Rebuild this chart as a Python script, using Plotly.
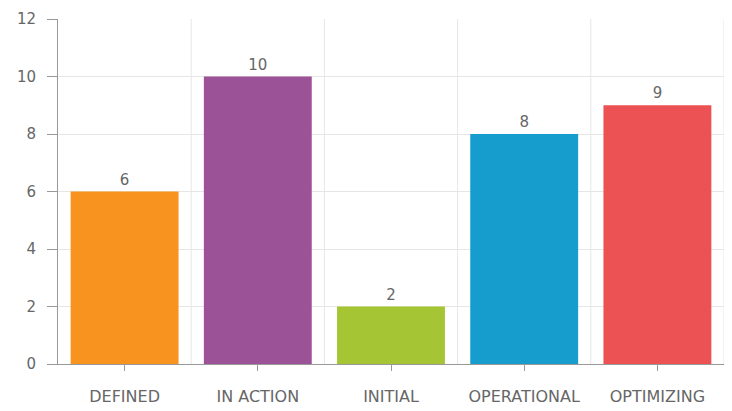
import plotly.graph_objects as go

categories = ["DEFINED", "IN ACTION", "INITIAL", "OPERATIONAL", "OPTIMIZING"]
values = [6, 10, 2, 8, 9]
colors = ["#F8931F", "#9C5297", "#A6C535", "#169DCD", "#EC5153"]
y_ticks = [0, 2, 4, 6, 8, 10, 12]

font_family = "'DejaVu Sans', 'Open Sans', sans-serif"
gray = "#666666"

fig = go.Figure()
fig.add_trace(go.Bar(
    x=categories, y=values,
    marker=dict(color=colors, line=dict(width=0)),
    text=[str(v) for v in values], textposition="outside",
    textfont=dict(family=font_family, size=15, color=gray),
    cliponaxis=False, hoverinfo="x+y",
))

# vertical gridlines at category boundaries
shapes = []
for i in range(1, len(categories) + 1):
    shapes.append(dict(type="line", xref="x", yref="paper", x0=i - 0.5, x1=i - 0.5,
                       y0=0, y1=1, line=dict(color="#E6E6E6", width=1), layer="below"))

fig.update_layout(
    width=732, height=411,
    margin=dict(l=58, r=8, t=19, b=47, autoexpand=False),
    paper_bgcolor="white", plot_bgcolor="white",
    bargap=0.19,
    showlegend=False,
    shapes=shapes,
    font=dict(family=font_family, size=15, color=gray),
    xaxis=dict(
        type="category", range=[-0.5, len(categories) - 0.5], automargin=False,
        showgrid=False, showline=True, linecolor="#999999", linewidth=1,
        ticks="outside", ticklen=6, tickcolor="#999999", tickwidth=1,
        ticklabelstandoff=12,
        tickfont=dict(family=font_family, size=16, color=gray),
        zeroline=False,
    ),
    yaxis=dict(
        range=[0, 12], tickvals=y_ticks, automargin=False,
        showgrid=True, gridcolor="#E6E6E6", gridwidth=1,
        showline=True, linecolor="#999999", linewidth=1,
        ticks="outside", ticklen=10, tickcolor="#999999", tickwidth=1,
        ticklabelstandoff=8,
        tickfont=dict(family=font_family, size=15, color=gray),
        zeroline=False,
    ),
)

fig.write_html("out.html", config={"displayModeBar": False},
               post_script="document.body.style.margin='0px';")
